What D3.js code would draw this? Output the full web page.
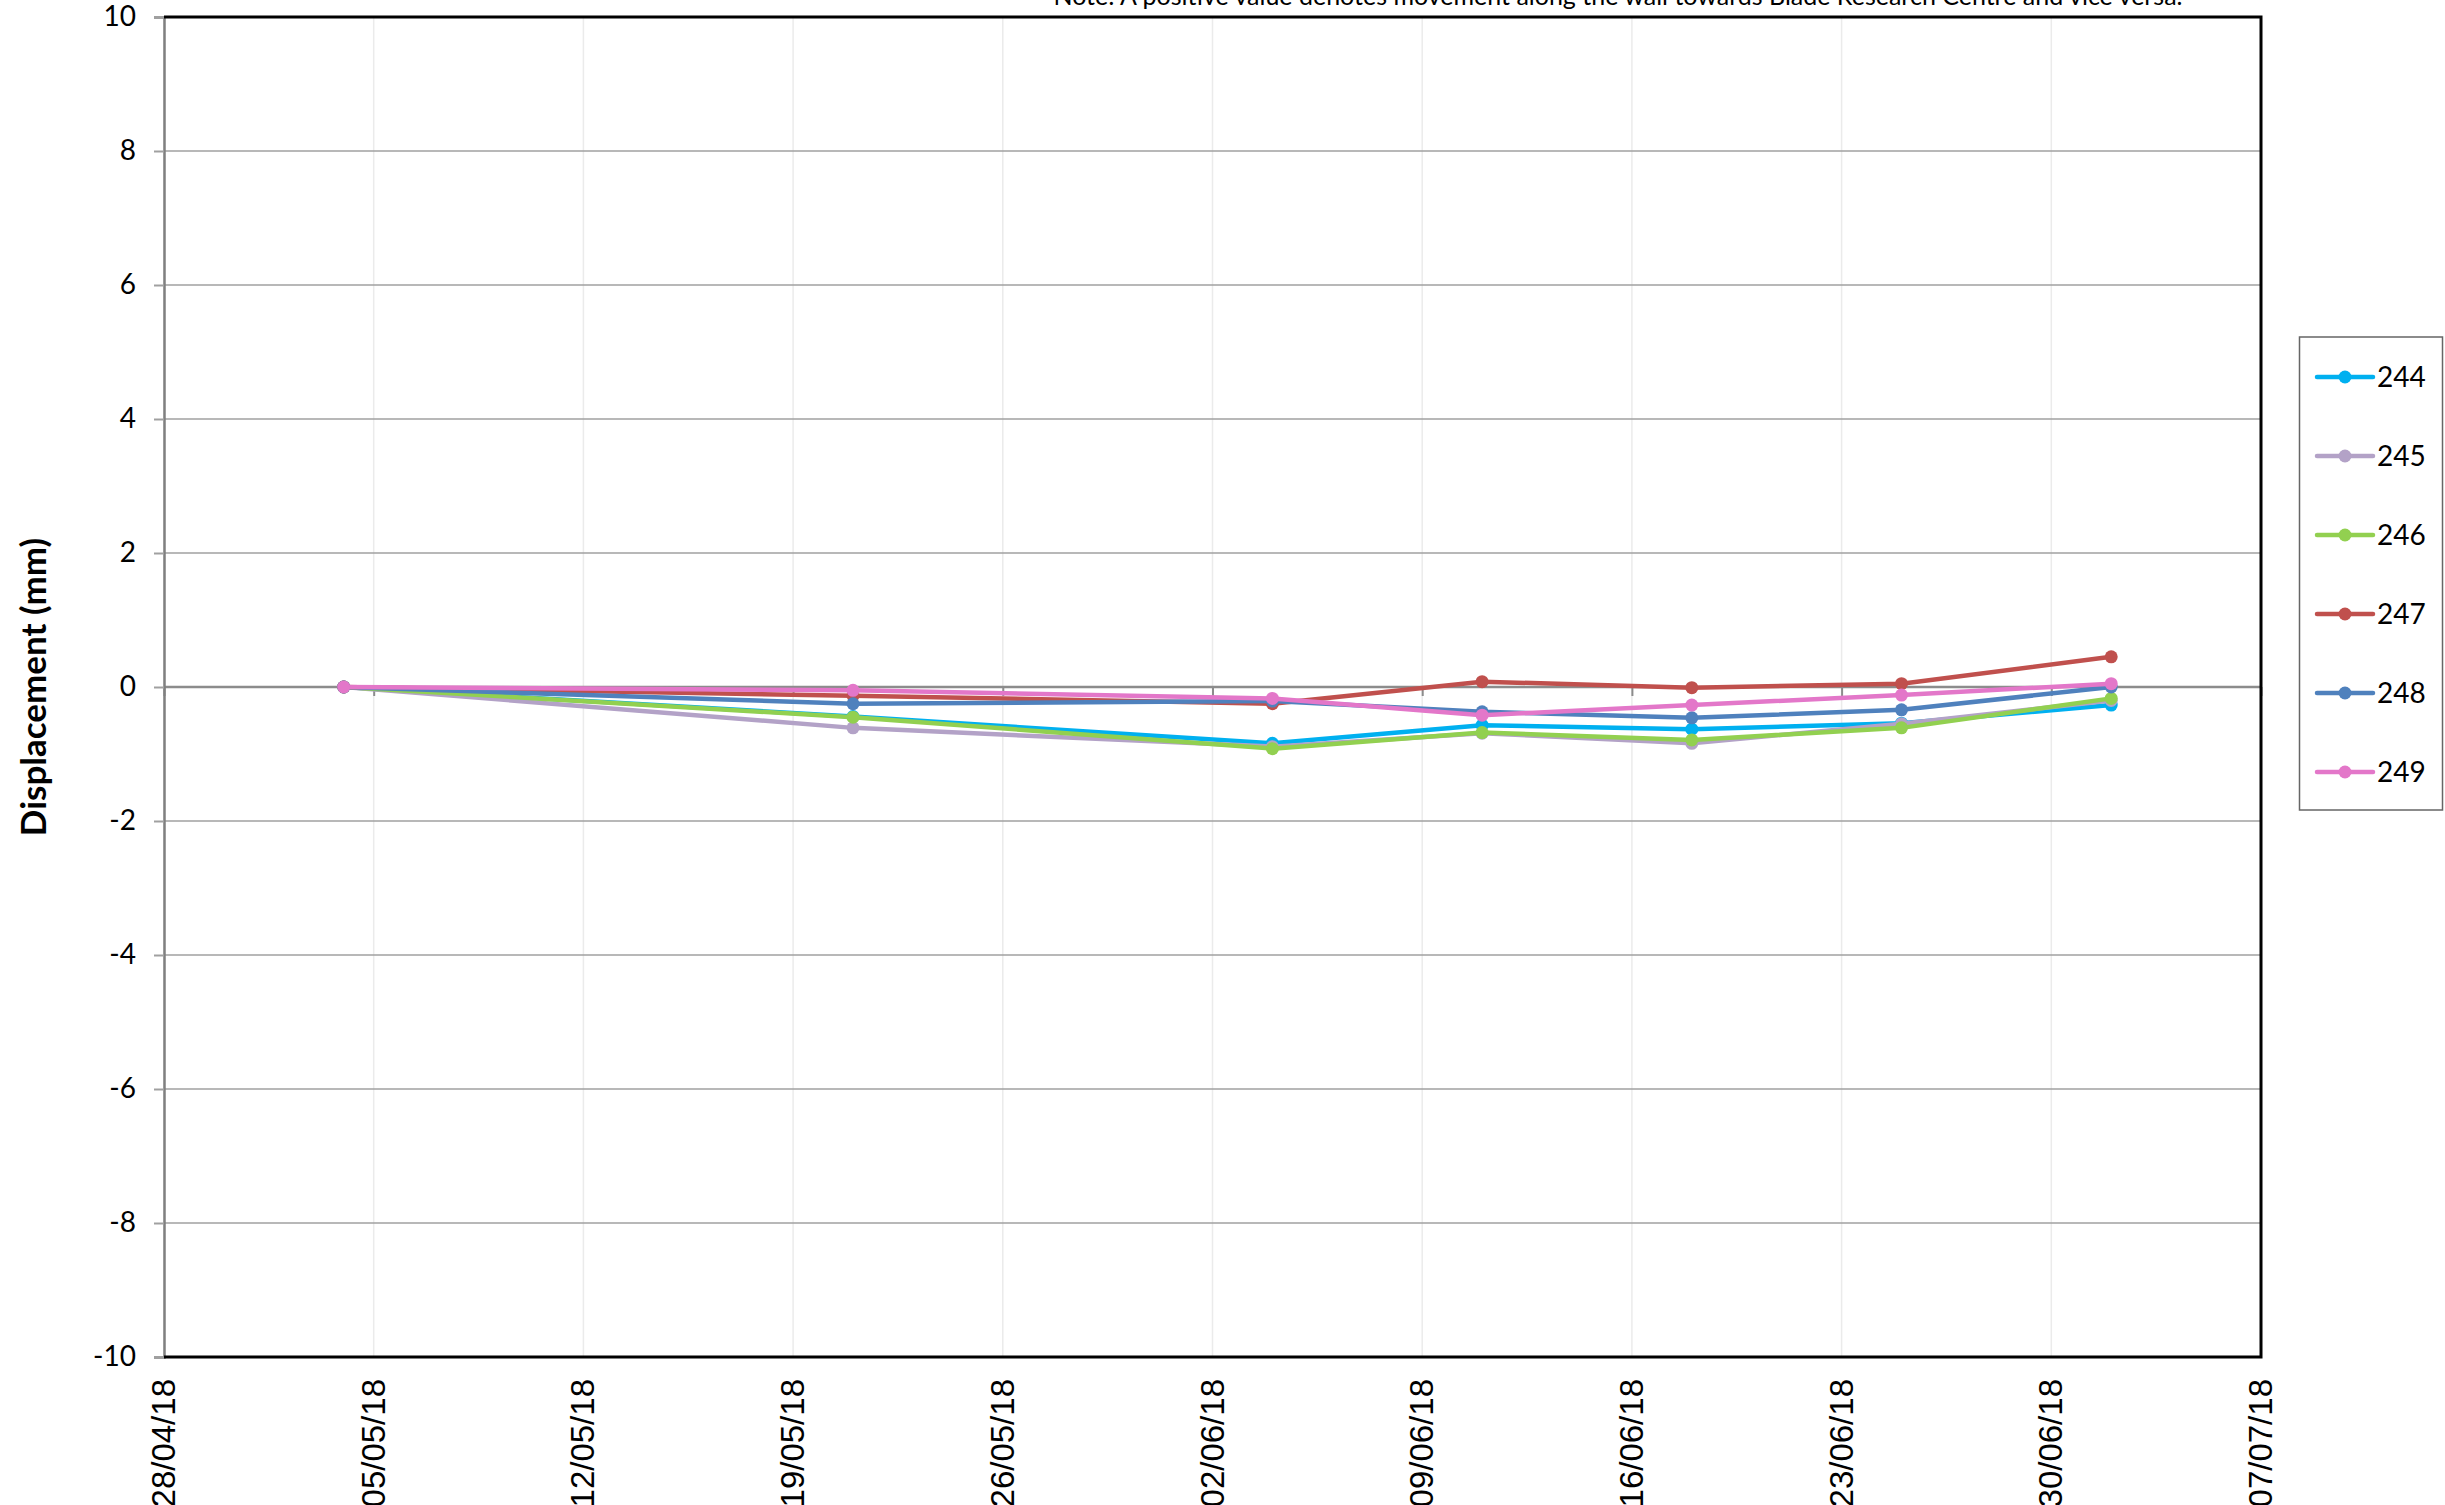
<!DOCTYPE html>
<html>
<head>
<meta charset="utf-8">
<script src="https://cdnjs.cloudflare.com/ajax/libs/d3/7.8.5/d3.min.js"></script>
<style>
  body { margin: 0; background: #fff; }
  svg { display: block; }
</style>
</head>
<body>
<script>
//survey dates and displacement of each target (mm)
var dates = ["2018-05-04","2018-05-21","2018-06-04","2018-06-11","2018-06-18","2018-06-25","2018-07-02"];
var s244 = [0, -0.44, -0.84, -0.57, -0.63, -0.54, -0.27];
var s245 = [0, -0.61, -0.89, -0.69, -0.84, -0.55, -0.20];
var s246 = [0, -0.45, -0.92, -0.68, -0.79, -0.61, -0.17];
var s247 = [0, -0.13, -0.25, 0.08, -0.01, 0.05, 0.45];
var s248 = [0, -0.25, -0.21, -0.37, -0.46, -0.34, 0.00];
var s249 = [0, -0.05, -0.17, -0.42, -0.27, -0.12, 0.05];
var names = ["244","245","246","247","248","249"];
var colours = ["#00b0f0","#b3a2c7","#92d050","#c0504d","#4f81bd","#e377c9"];
var yTicks = [-10,-8,-6,-4,-2,0,2,4,6,8,10];
var xStart = "2018-04-28", xEnd = "2018-07-07";
var note = "Note: A positive value denotes movement along the wall towards Blade Research Centre and vice versa.";

var W = 2445, H = 1505;
var margin = {top: 17, right: 184, bottom: 148, left: 164},
width = W - margin.left - margin.right,
height = H - margin.top - margin.bottom;

var parse = d3.timeParse("%Y-%m-%d");
var fmt = d3.timeFormat("%d/%m/%y");
var x = d3.scaleTime().domain([parse(xStart), parse(xEnd)]).range([0, width]);
var y = d3.scaleLinear().domain([-10, 10]).range([height, 0]);
var xTicks = d3.timeDay.range(parse(xStart), d3.timeDay.offset(parse(xEnd), 1), 7);

var series = [s244, s245, s246, s247, s248, s249].map(function(v, i) {
  return {name: names[i], colour: colours[i], values: v.map(function(d, j) {
    return {date: parse(dates[j]), value: d};
  })};
});

var svg = d3.select("body")
.append("svg")
.attr("width", W)
.attr("height", H);

var g = svg.append("g")
.attr("transform", "translate(" + margin.left + "," + margin.top + ")");

//note at the top, cut by the edge as in the original
svg.append("text")
.attr("x", 1618)
.attr("y", 5)
.attr("text-anchor", "middle")
.style("font-family", "Lato, sans-serif")
.style("font-size", "25px")
.text(note);

//vertical light grid
g.append("g")
.selectAll("line")
.data(xTicks)
.enter().append("line")
.attr("x1", function(d) { return x(d); })
.attr("x2", function(d) { return x(d); })
.attr("y1", 0)
.attr("y2", height)
.attr("stroke", "#ebebeb")
.attr("stroke-width", 1.5);

//horizontal grid
g.append("g")
.selectAll("line")
.data(yTicks)
.enter().append("line")
.attr("x1", 0)
.attr("x2", width)
.attr("y1", function(d) { return y(d); })
.attr("y2", function(d) { return y(d); })
.attr("stroke", function(d) { return d == 0 ? "#8c8c8c" : "#a0a0a0"; })
.attr("stroke-width", function(d) { return d == 0 ? 2.5 : 1.5; });

//x axis sits on zero, labels at the bottom
var xAxis = d3.axisBottom(x).tickValues(xTicks).tickSize(9).tickFormat("");
g.append("g")
.attr("transform", "translate(0," + y(0) + ")")
.call(xAxis)
.call(function(s) {
  s.select(".domain").remove();
  s.selectAll(".tick line").attr("stroke", "#8c8c8c").attr("stroke-width", 2);
});

g.append("g")
.selectAll("text")
.data(xTicks)
.enter().append("text")
.attr("transform", function(d) { return "translate(" + (x(d) + 11) + "," + (height + 22) + ") rotate(-90)"; })
.attr("text-anchor", "end")
.style("font-family", "'Liberation Sans Narrow', 'Arial Narrow', sans-serif")
.style("font-size", "33px")
.text(function(d) { return fmt(d); });

//y axis, plain hyphen for negatives
var yAxis = d3.axisLeft(y).tickValues(yTicks).tickSize(10).tickPadding(18)
.tickFormat(function(d) { return String(d); });
g.append("g")
.call(yAxis)
.call(function(s) {
  s.select(".domain").attr("stroke", "#808080").attr("stroke-width", 2.5);
  s.selectAll(".tick line").attr("stroke", "#a0a0a0").attr("stroke-width", 2);
  s.selectAll(".tick text")
  .style("font-family", "Lato, sans-serif")
  .style("font-size", "28px")
  .attr("fill", "#000");
});

//frame on top, right and bottom
g.append("path")
.attr("d", "M0,0H" + width + "V" + height + "H0")
.attr("fill", "none")
.attr("stroke", "#000")
.attr("stroke-width", 3);

svg.append("text")
.attr("transform", "translate(46," + (margin.top + height / 2) + ") rotate(-90)")
.attr("text-anchor", "middle")
.style("font-family", "Lato, sans-serif")
.style("font-weight", "bold")
.style("font-size", "35px")
.text("Displacement (mm)");

//lines and markers
var line = d3.line()
.x(function(d) { return x(d.date); })
.y(function(d) { return y(d.value); });

var sg = g.selectAll(".series")
.data(series)
.enter().append("g")
.attr("class", "series");

sg.append("path")
.attr("d", function(d) { return line(d.values); })
.attr("fill", "none")
.attr("stroke", function(d) { return d.colour; })
.attr("stroke-width", 4.5)
.attr("stroke-linejoin", "round");

sg.selectAll("circle")
.data(function(d) { return d.values.map(function(v) { return {v: v, c: d.colour}; }); })
.enter().append("circle")
.attr("cx", function(d) { return x(d.v.date); })
.attr("cy", function(d) { return y(d.v.value); })
.attr("r", 6.5)
.attr("fill", function(d) { return d.c; });

//legend
var legend = svg.append("g")
.attr("transform", "translate(2299,337)");

legend.append("rect")
.attr("x", 0.5)
.attr("y", 0)
.attr("width", 143)
.attr("height", 473)
.attr("fill", "#fff")
.attr("stroke", "#666")
.attr("stroke-width", 1.5);

var item = legend.selectAll(".item")
.data(series)
.enter().append("g")
.attr("class", "item")
.attr("transform", function(d, i) { return "translate(0," + (40 + i * 79) + ")"; });

item.append("line")
.attr("x1", 18)
.attr("x2", 74)
.attr("stroke", function(d) { return d.colour; })
.attr("stroke-width", 4.5)
.attr("stroke-linecap", "round");

item.append("circle")
.attr("cx", 46)
.attr("r", 6.5)
.attr("fill", function(d) { return d.colour; });

item.append("text")
.attr("x", 78)
.attr("dy", "0.36em")
.style("font-family", "Lato, sans-serif")
.style("font-size", "28px")
.text(function(d) { return d.name; });
</script>
</body>
</html>
